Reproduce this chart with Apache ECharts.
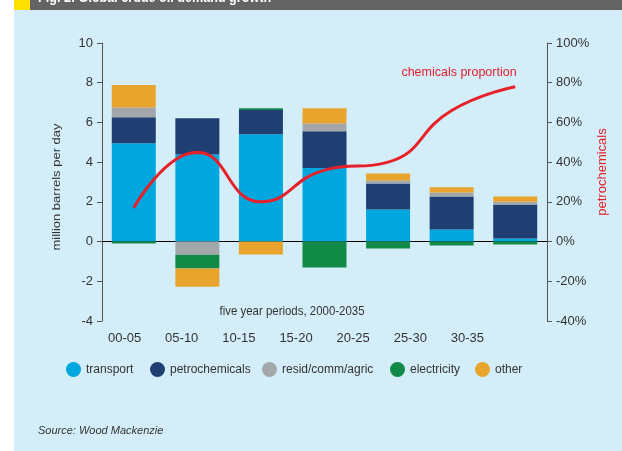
<!DOCTYPE html>
<html>
<head>
<meta charset="utf-8">
<script src="https://cdn.jsdelivr.net/npm/echarts@6/dist/echarts.min.js"></script>
<style>
  html, body { margin: 0; padding: 0; background: #fff; }
  #chart { width: 622px; height: 451px; }
</style>
</head>
<body>
<div id="chart"></div>
<script>
// periods on the x axis
const periods = ["00-05", "05-10", "10-15", "15-20", "20-25", "25-30", "30-35"];

// million barrels per day, by sector
const transport = [4.95, 4.39, 5.4, 3.7, 1.62, 0.61, 0.15];
const petrochemicals = [1.31, 1.82, 1.22, 1.86, 1.31, 1.66, 1.72];
const resid = [0.49, -0.66, 0, 0.38, 0.15, 0.2, 0.13];
const electricity = [-0.1, -0.7, 0.1, -1.31, -0.35, -0.2, -0.15];
const other = [1.13, -0.91, -0.65, 0.78, 0.35, 0.26, 0.27];

// chemicals share of growth, %
const chemicalsProportion = [17, 45, 20, 36, 40, 66, 78];

const leftTicks = { min: -4, max: 10, interval: 2 };
const rightTicks = { min: -40, max: 100, interval: 20 };

const legendNames = ["transport", "petrochemicals", "resid/comm/agric", "electricity", "other"];
const legendLeft = [66, 150, 262, 390, 475];

const FONT = "'Liberation Sans', Arial, sans-serif";
const RED = "#e8202a";

const myChart = echarts.init(document.getElementById("chart"));

const barSeries = (name, data, color) => ({
  name: name,
  type: "bar",
  stack: "demand",
  barWidth: 44,
  data: data,
  itemStyle: { color: color },
});

// narrow-ish text, the original uses a condensed face
const label = (text, x, y, opts) =>
  Object.assign(
    {
      type: "text",
      x: x,
      y: y,
      scaleX: 0.88,
      style: Object.assign(
        { text: text, fill: "#333", font: "13px " + FONT, align: "center", verticalAlign: "middle" },
        (opts && opts.style) || {}
      ),
    },
    (opts && opts.el) || {}
  );

const option = {
  backgroundColor: "#ffffff",
  animation: false,
  textStyle: { fontFamily: FONT },
  graphic: [
    { type: "rect", shape: { x: 14, y: 9, width: 608, height: 442 }, style: { fill: "#d3eef9" }, z: -10 },
    { type: "rect", shape: { x: 30, y: 0, width: 592, height: 10 }, style: { fill: "#636363" }, z: -9 },
    { type: "rect", shape: { x: 14, y: 0, width: 16, height: 10 }, style: { fill: "#ffe000" }, z: -9 },
    // figure title, cut off by the top edge as in the source image
    label("Fig. 2: Global crude oil demand growth", 38, 5, {
      style: { fill: "#fff", font: "bold 14px " + FONT, align: "left", verticalAlign: "bottom" },
      el: { scaleX: 0.9, z: -8 },
    }),
    label("chemicals proportion", 459, 72, { style: { fill: RED }, el: { scaleX: 0.96 } }),
    label("five year periods, 2000-2035", 292, 311),
    label("petrochemicals", 603, 172, { style: { fill: RED }, el: { rotation: Math.PI / 2, scaleX: 1, scaleY: 0.92 } }),
    label("million barrels per day", 57, 187, { el: { rotation: Math.PI / 2, scaleX: 1, scaleY: 0.9 } }),
    label("Source: Wood Mackenzie", 38, 431, {
      style: { font: "italic 11px " + FONT, align: "left" },
      el: { scaleX: 1 },
    }),
  ],
  legend: legendNames.map((name, i) => ({
    left: legendLeft[i],
    top: 362,
    padding: 0,
    icon: "circle",
    itemWidth: 15,
    itemHeight: 15,
    itemGap: 0,
    textStyle: { fontSize: 12, color: "#333", fontFamily: FONT },
    data: [name],
  })),
  grid: [
    { left: 102, right: 75, top: 43, bottom: 130 },
    { left: 96, width: 400, top: 324, height: 4 },
  ],
  xAxis: [
    {
      type: "category",
      gridIndex: 0,
      data: periods,
      axisLine: { onZero: true, lineStyle: { color: "#000", width: 1 } },
      axisTick: { show: false },
      axisLabel: { show: false },
    },
    {
      type: "category",
      gridIndex: 1,
      data: periods,
      axisLine: { show: false },
      axisTick: { show: false },
      axisLabel: { fontSize: 13, color: "#333", margin: 4, fontFamily: FONT },
    },
  ],
  yAxis: [
    {
      type: "value",
      gridIndex: 0,
      min: leftTicks.min,
      max: leftTicks.max,
      interval: leftTicks.interval,
      axisLine: { show: true, lineStyle: { color: "#555" } },
      axisTick: { show: true, length: 5, lineStyle: { color: "#555" } },
      axisLabel: { fontSize: 13, color: "#333", margin: 9, fontFamily: FONT },
      splitLine: { show: false },
    },
    {
      type: "value",
      gridIndex: 0,
      position: "right",
      min: rightTicks.min,
      max: rightTicks.max,
      interval: rightTicks.interval,
      axisLine: { show: true, lineStyle: { color: "#555" } },
      axisTick: { show: true, length: 5, lineStyle: { color: "#555" } },
      axisLabel: { fontSize: 13, color: "#333", margin: 9, formatter: "{value}%", fontFamily: FONT },
      splitLine: { show: false },
    },
    {
      type: "value",
      gridIndex: 1,
      show: false,
    },
  ],
  series: [
    barSeries("transport", transport, "#00a6de"),
    barSeries("petrochemicals", petrochemicals, "#1f3f73"),
    barSeries("resid/comm/agric", resid, "#a4a7aa"),
    barSeries("electricity", electricity, "#128a47"),
    barSeries("other", other, "#e8a42c"),
    {
      name: "chemicals proportion",
      type: "line",
      yAxisIndex: 1,
      smooth: 0.5,
      symbol: "none",
      data: chemicalsProportion,
      lineStyle: { color: RED, width: 3 },
      z: 5,
    },
  ],
};

myChart.setOption(option);
window.onresize = function () {
  myChart.resize();
};
</script>
</body>
</html>
